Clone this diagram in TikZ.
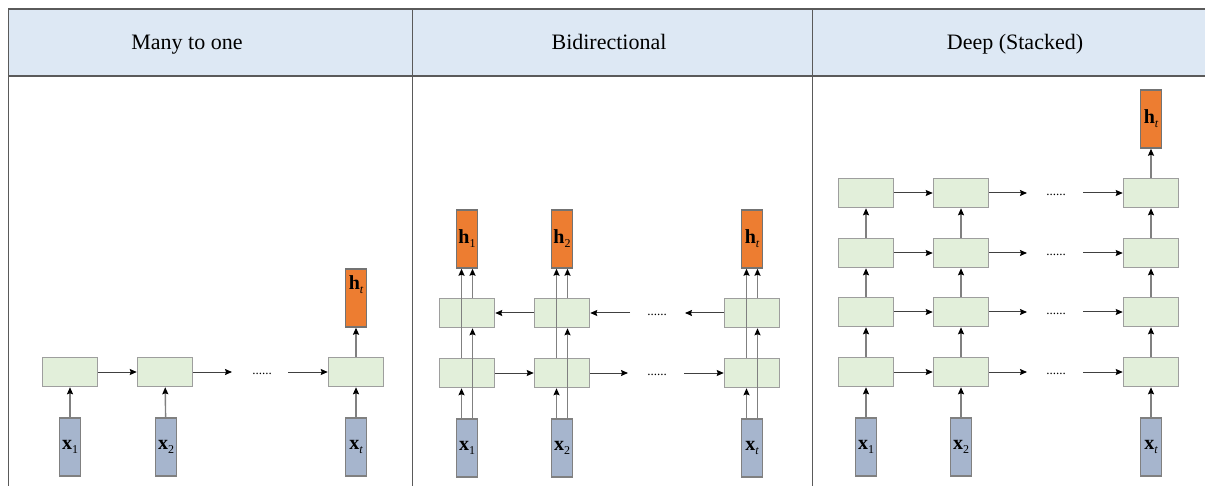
\documentclass[tikz,border=0pt]{standalone}
\usepackage{fontspec}
\setmainfont{Liberation Serif}
\usetikzlibrary{arrows.meta}

\definecolor{headblue}{HTML}{DDE8F4}
\definecolor{cellgreen}{HTML}{E2EFDA}
\definecolor{inblue}{HTML}{A6B5CD}
\definecolor{outorange}{HTML}{ED7D31}
\definecolor{rulegray}{HTML}{5A5A5A}

\newcommand{\invec}[1]{\textbf{x}\raisebox{-4pt}{\fontsize{12}{12}\selectfont #1}}
\newcommand{\outvec}[1]{\textbf{h}\raisebox{-4pt}{\fontsize{12}{12}\selectfont #1}}

\begin{document}
\begin{tikzpicture}[x=1pt,y=-1pt,
    cell/.style={rectangle,draw=black!38,line width=1.5pt,fill=cellgreen,
                 minimum width=55pt,minimum height=29pt,inner sep=0pt},
    xin/.style={rectangle,draw=black!50,line width=1.4pt,fill=inblue,
                minimum width=21pt,minimum height=58pt,inner sep=0pt,
                font=\fontsize{20}{20}\selectfont},
    hout/.style={rectangle,draw=black!55,line width=1.4pt,fill=outorange,
                 minimum width=21pt,minimum height=58pt,inner sep=0pt,
                 font=\fontsize{20}{20}\selectfont},
    dotsnode/.style={inner sep=0pt,font=\fontsize{13}{13}\selectfont},
    title/.style={anchor=base,font=\fontsize{22}{22}\selectfont}]

\useasboundingbox (0,0) rectangle (1205,486);

% table
\fill[headblue] (8,9) rectangle (1210,76);
\draw[rulegray,line width=1.2pt] (8,9) -- (1210,9);
\draw[rulegray,line width=1.8pt] (8,76) -- (1210,76);
\draw[rulegray,line width=1pt] (8,9) -- (8,490);
\draw[rulegray,line width=1pt] (412,9) -- (412,490);
\draw[rulegray,line width=1pt] (812,9) -- (812,490);

\node[title] (t1) at (187,50) {Many to one};
\node[title] (t2) at (609,50) {Bidirectional};
\node[title] (t3) at (1015,50) {Deep (Stacked)};

% many to one
\node[cell] (m1) at (70,372) {};
\node[cell] (m2) at (165,372) {};
\node[cell] (m3) at (356,372) {};
\node[xin] (mx1) at (70,447) {\invec{1}};
\node[xin] (mx2) at (166,447) {\invec{2}};
\node[xin] (mx3) at (356,447) {\invec{\itshape t}};
\node[hout,text height=13pt,text depth=29pt] (mh) at (356,298) {\outvec{\itshape t}};
\node[dotsnode] (md) at (262,374) {......};
\coordinate (mp) at (232,372);
\coordinate (mq) at (288,372);

% bidirectional
\node[cell] (f1) at (467,373) {};
\node[cell] (f2) at (562,373) {};
\node[cell] (f3) at (752,373) {};
\node[cell] (b1) at (467,313) {};
\node[cell] (b2) at (562,313) {};
\node[cell] (b3) at (752,313) {};
\node[xin] (bx1) at (467,448) {\invec{1}};
\node[xin] (bx2) at (562,448) {\invec{2}};
\node[xin] (bx3) at (752,448) {\invec{\itshape t}};
\node[hout] (bh1) at (467,239) {\outvec{1}};
\node[hout] (bh2) at (562,239) {\outvec{2}};
\node[hout] (bh3) at (752,239) {\outvec{\itshape t}};
\node[dotsnode] (fd) at (657,375) {......};
\node[dotsnode] (bd) at (657,315) {......};
\coordinate (fp) at (628,373);
\coordinate (fq) at (684,373);
\coordinate (bp) at (630,313);
\coordinate (bq) at (685,313);

% deep (stacked)
\node[cell] (d11) at (866,372) {};
\node[cell] (d12) at (961,372) {};
\node[cell] (d13) at (1151,372) {};
\node[cell] (d21) at (866,312) {};
\node[cell] (d22) at (961,312) {};
\node[cell] (d23) at (1151,312) {};
\node[cell] (d31) at (866,253) {};
\node[cell] (d32) at (961,253) {};
\node[cell] (d33) at (1151,253) {};
\node[cell] (d41) at (866,193) {};
\node[cell] (d42) at (961,193) {};
\node[cell] (d43) at (1151,193) {};
\node[xin] (dx1) at (866,447) {\invec{1}};
\node[xin] (dx2) at (961,447) {\invec{2}};
\node[xin] (dx3) at (1151,447) {\invec{\itshape t}};
\node[hout] (dh) at (1151,119) {\outvec{\itshape t}};
\node[dotsnode] (dd1) at (1056,374) {......};
\node[dotsnode] (dd2) at (1056,314) {......};
\node[dotsnode] (dd3) at (1056,255) {......};
\node[dotsnode] (dd4) at (1056,195) {......};
\coordinate (dp1) at (1027,372);
\coordinate (dq1) at (1083,372);
\coordinate (dp2) at (1027,312);
\coordinate (dq2) at (1083,312);
\coordinate (dp3) at (1027,253);
\coordinate (dq3) at (1083,253);
\coordinate (dp4) at (1027,193);
\coordinate (dq4) at (1083,193);

\begin{scope}[>={Stealth[black,length=7pt,width=6pt,inset=1pt]},
              flow/.style={->,draw=black!75,line width=1pt},
              feed/.style={->,draw=black!50,line width=1.4pt}]
    % many to one
    \draw[flow] (m1) -- (m2);
    \draw[flow] (m2) -- (mp);
    \draw[flow] (mq) -- (m3);
    \draw[feed] (mx1) -- (m1);
    \draw[feed] (mx2) -- (m2);
    \draw[feed] (mx3) -- (m3);
    \draw[feed] (m3) -- (mh);

    % bidirectional
    \draw[flow] (f1) -- (f2);
    \draw[flow] (f2) -- (fp);
    \draw[flow] (fq) -- (f3);
    \draw[flow] (b2) -- (b1);
    \draw[flow] (bp) -- (b2);
    \draw[flow] (b3) -- (bq);
    \draw[feed] ([xshift=-5.5pt]bx1.north) -- ([xshift=-5.5pt]f1.south);
    \draw[feed] ([xshift=-5.5pt]f1.north) -- ([xshift=-5.5pt]bh1.south);
    \draw[feed] ([xshift=5.5pt]bx1.north) -- ([xshift=5.5pt]b1.south);
    \draw[feed] ([xshift=5.5pt]b1.north) -- ([xshift=5.5pt]bh1.south);
    \draw[feed] ([xshift=-5.5pt]bx2.north) -- ([xshift=-5.5pt]f2.south);
    \draw[feed] ([xshift=-5.5pt]f2.north) -- ([xshift=-5.5pt]bh2.south);
    \draw[feed] ([xshift=5.5pt]bx2.north) -- ([xshift=5.5pt]b2.south);
    \draw[feed] ([xshift=5.5pt]b2.north) -- ([xshift=5.5pt]bh2.south);
    \draw[feed] ([xshift=-5.5pt]bx3.north) -- ([xshift=-5.5pt]f3.south);
    \draw[feed] ([xshift=-5.5pt]f3.north) -- ([xshift=-5.5pt]bh3.south);
    \draw[feed] ([xshift=5.5pt]bx3.north) -- ([xshift=5.5pt]b3.south);
    \draw[feed] ([xshift=5.5pt]b3.north) -- ([xshift=5.5pt]bh3.south);

    % deep (stacked)
    \draw[flow] (d11) -- (d12);
    \draw[flow] (d12) -- (dp1);
    \draw[flow] (dq1) -- (d13);
    \draw[flow] (d21) -- (d22);
    \draw[flow] (d22) -- (dp2);
    \draw[flow] (dq2) -- (d23);
    \draw[flow] (d31) -- (d32);
    \draw[flow] (d32) -- (dp3);
    \draw[flow] (dq3) -- (d33);
    \draw[flow] (d41) -- (d42);
    \draw[flow] (d42) -- (dp4);
    \draw[flow] (dq4) -- (d43);
    \draw[feed] (dx1) -- (d11);
    \draw[feed] (d11) -- (d21);
    \draw[feed] (d21) -- (d31);
    \draw[feed] (d31) -- (d41);
    \draw[feed] (dx2) -- (d12);
    \draw[feed] (d12) -- (d22);
    \draw[feed] (d22) -- (d32);
    \draw[feed] (d32) -- (d42);
    \draw[feed] (dx3) -- (d13);
    \draw[feed] (d13) -- (d23);
    \draw[feed] (d23) -- (d33);
    \draw[feed] (d33) -- (d43);
    \draw[feed] (d43) -- (dh);
\end{scope}
\end{tikzpicture}
\end{document}
